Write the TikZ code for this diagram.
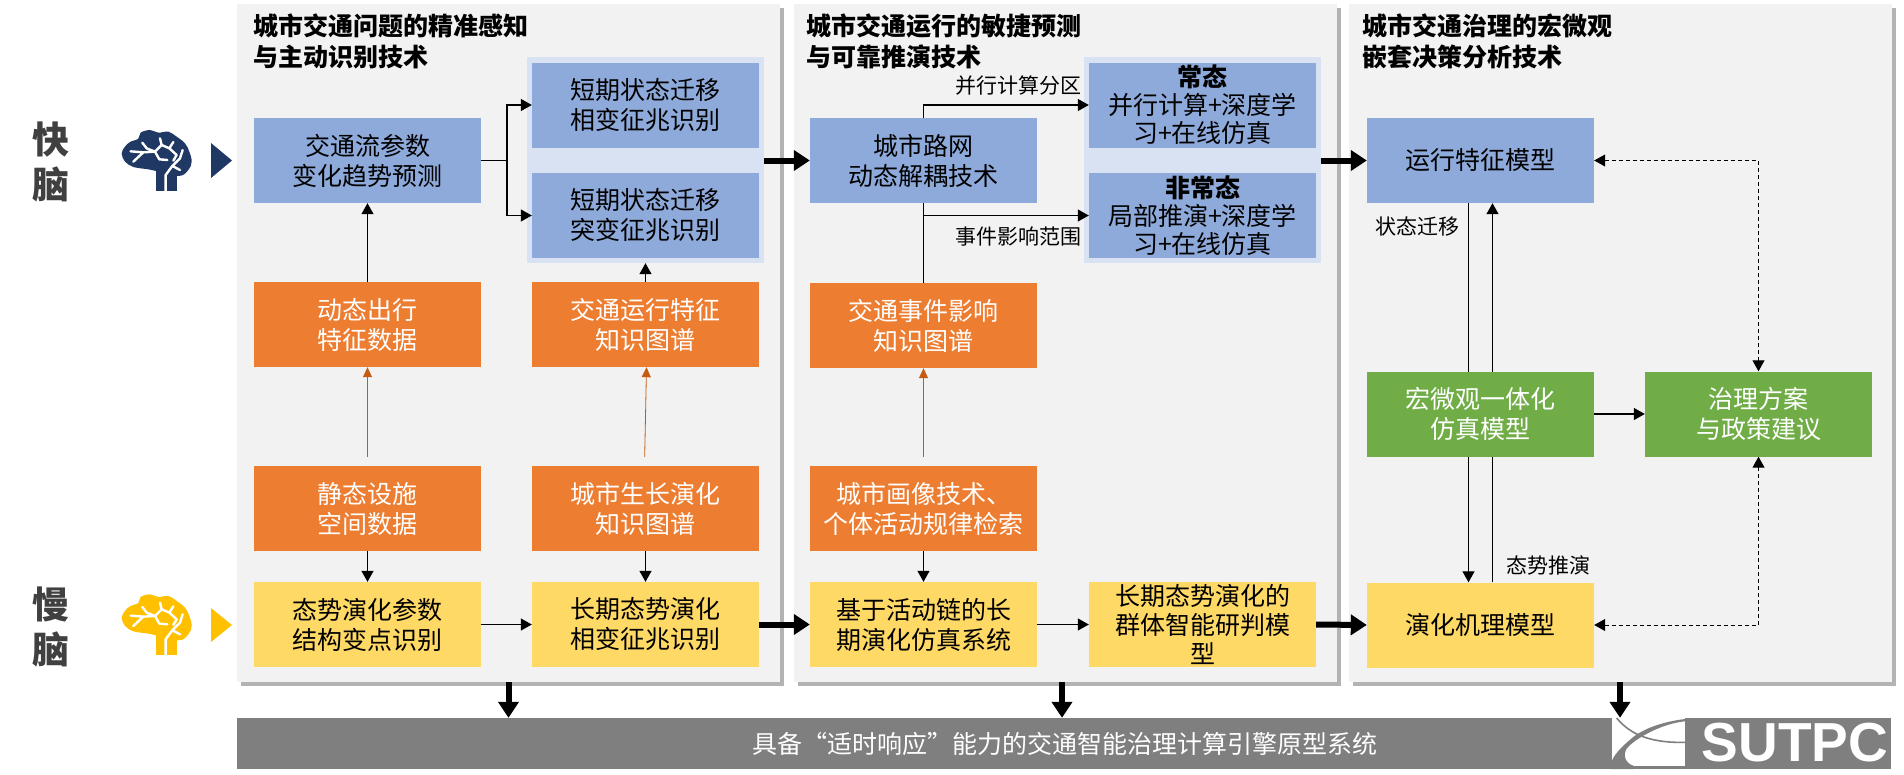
\documentclass[tikz,border=0pt]{standalone}
\usepackage{fontspec}
\setmainfont{Noto Sans CJK SC}
\newfontfamily\logofont{Liberation Sans}
\usetikzlibrary{arrows.meta, shadows}

\definecolor{panelgray}{HTML}{F2F2F2}
\definecolor{barblue}{HTML}{8EAADB}
\definecolor{halfblue}{HTML}{D9E2F3}
\definecolor{dataorange}{HTML}{ED7D31}
\definecolor{slowyellow}{HTML}{FFD966}
\definecolor{macrogreen}{HTML}{70AD47}
\definecolor{basegray}{HTML}{7F7F7F}
\definecolor{navyicon}{HTML}{1F3864}
\definecolor{goldicon}{HTML}{FFC000}
\definecolor{headgray}{HTML}{404040}
\definecolor{rustline}{HTML}{C55A11}

\tikzset{
    panel/.style={fill=panelgray, inner sep=0pt, minimum width=543pt, minimum height=678pt,
        drop shadow={shadow xshift=4pt, shadow yshift=-4pt, fill=black!50, opacity=0.6}},
    halo/.style={fill=halfblue, inner sep=0pt, minimum width=237pt, minimum height=206pt},
    block/.style={inner sep=0pt, minimum width=227pt, minimum height=85pt, align=center,
        font=\fontsize{25}{30}\selectfont},
    blueblock/.style={block, fill=barblue},
    orangeblock/.style={block, fill=dataorange, text=white},
    yellowblock/.style={block, fill=slowyellow},
    greenblock/.style={block, fill=macrogreen, text=white},
    paneltitle/.style={anchor=west, inner sep=0pt, align=left,
        font=\fontsize{25}{31}\selectfont\bfseries},
    tag/.style={inner sep=0pt, font=\fontsize{21}{25}\selectfont},
    brainname/.style={inner sep=0pt, align=center, text=headgray,
        font=\fontsize{37}{45}\selectfont\bfseries},
    thinarrow/.style={line width=1.25pt, -{Triangle[length=11pt,width=12pt]}},
    plainline/.style={line width=1.25pt},
    rustarrow/.style={line width=0.8pt, draw=rustline, shorten <=9pt, -{Triangle[length=10pt,width=9pt]}},
    thickarrow/.style={line width=6pt, -{Triangle[length=16pt,width=20pt]}},
    dashedarrow/.style={line width=1pt, dash pattern=on 4pt off 3pt, {Triangle[length=11pt,width=12pt]}-{Triangle[length=11pt,width=12pt]}},
}

% Brain icon: x, y of the corner, colour
\newcommand{\brainicon}[3]{
    \begin{scope}[shift={(#1,#2)}, x=0.3333pt, y=-0.3333pt]
        \fill[#3] plot[smooth cycle, tension=0.6] coordinates {(125,150) (100,146) (70,141) (45,125) (35,100) (45,80)
            (60,66) (85,56) (92,38) (120,30) (145,38) (175,35) (200,50) (225,70) (238,95) (245,125) (235,150) (205,168)};
        \fill[#3] (138,212) rectangle (200,140);
        \draw[white, line width=2.4pt, line cap=round, line join=round]
            (167,214) -- (167,165) -- (187,138) -- (210,115) -- (218,90)
            (187,138) -- (210,150)
            (190,122) -- (200,105) -- (178,85) -- (155,75) -- (150,55)
            (155,75) -- (135,95) -- (110,85) -- (97,68)
            (135,95) -- (100,97) -- (62,94)
            (100,97) -- (70,125)
            (178,85) -- (190,66)
            (135,95) -- (148,118) -- (172,120);
    \end{scope}
}

\begin{document}
\begin{tikzpicture}[x=1pt, y=-1pt]
    \useasboundingbox (0,0) rectangle (1904,774);

    % Draw panels
    \node[panel] (panelsense) at (508.5,343) {};
    \node[panel] (panelpredict) at (1065,343) {};
    \node[panel] (panelgovern) at (1620,343) {};
    \node[fill=basegray, inner sep=0pt, minimum width=1654pt, minimum height=51pt, text=white,
        font=\fontsize{25}{30}\selectfont] (engine) at (1064,743.5) {\hspace*{2pt}具备“适时响应”能力的交通智能治理计算引擎原型系统};

    % Panel titles
    \node[paneltitle] (titlesense) at (253,41) {城市交通问题的精准感知\\与主动识别技术};
    \node[paneltitle] (titlepredict) at (806,41) {城市交通运行的敏捷预测\\与可靠推演技术};
    \node[paneltitle] (titlegovern) at (1362,41) {城市交通治理的宏微观\\嵌套决策分析技术};

    % Draw nodes
    \node[halo] (halostate) at (645.5,160) {};
    \node[halo] (halomode) at (1202,160) {};

    \node[blueblock] (trend) at (367.5,160.5) {交通流参数\\变化趋势预测};
    \node[orangeblock] (dynamic) at (367.5,324.5) {动态出行\\特征数据};
    \node[orangeblock] (static) at (367.5,508.5) {静态设施\\空间数据};
    \node[yellowblock] (breakpoint) at (367.5,624.5) {态势演化参数\\结构变点识别};

    \node[blueblock] (phase) at (645.5,105) {短期状态迁移\\相变征兆识别};
    \node[blueblock] (mutation) at (645.5,215.5) {短期状态迁移\\突变征兆识别};
    \node[orangeblock] (runkg) at (645.5,324.5) {交通运行特征\\知识图谱};
    \node[orangeblock] (growthkg) at (645.5,508.5) {城市生长演化\\知识图谱};
    \node[yellowblock] (longphase) at (645.5,624.5) {长期态势演化\\相变征兆识别};

    \node[blueblock] (decouple) at (923.5,160.5) {城市路网\\动态解耦技术};
    \node[orangeblock] (eventkg) at (923.5,325.5) {交通事件影响\\知识图谱};
    \node[orangeblock] (portrait) at (923.5,508.5) {城市画像技术、\\个体活动规律检索};
    \node[yellowblock] (activity) at (923.5,624.5) {基于活动链的长\\期演化仿真系统};

    \node[blueblock, font=\fontsize{25}{28}\selectfont] (normal) at (1202.5,105) {\textbf{常态}\\并行计算+深度学\\习+在线仿真};
    \node[blueblock, font=\fontsize{25}{28}\selectfont] (abnormal) at (1202.5,215.5) {\textbf{非常态}\\局部推演+深度学\\习+在线仿真};
    \node[yellowblock, font=\fontsize{25}{29}\selectfont] (swarm) at (1202.5,624.5) {长期态势演化的\\群体智能研判模\\型};

    \node[blueblock] (runmodel) at (1480.5,160.5) {运行特征模型};
    \node[yellowblock] (evomodel) at (1480.5,625) {演化机理模型};

    % Draw connections
    \coordinate (forktrend) at (507,160.5);
    \draw[plainline] (trend.east) -- (forktrend);
    \draw[thinarrow] (forktrend) |- (phase.west);
    \draw[thinarrow] (forktrend) |- (mutation.west);
    \draw[thinarrow] (dynamic.north) -- (trend.south);
    \draw[thinarrow] (runkg.north) -- (halostate.south);
    \draw[rustarrow] (static.north) -- (dynamic.south);
    \draw[rustarrow] ([xshift=-1pt]growthkg.north) -- ([xshift=1pt]runkg.south);
    \draw[rustarrow] (portrait.north) -- (eventkg.south);
    \draw[thinarrow] (static.south) -- (breakpoint.north);
    \draw[thinarrow] (growthkg.south) -- (longphase.north);
    \draw[thinarrow] (portrait.south) -- (activity.north);
    \draw[thinarrow] (breakpoint.east) -- (longphase.west);
    \draw[thinarrow] (activity.east) -- (swarm.west);

    \draw[thinarrow] (decouple.north) |- (normal.west);
    \draw[thinarrow] (decouple.south) |- (abnormal.west);
    \draw[plainline] (decouple.south) -- (eventkg.north);

    \draw[thickarrow] (halostate.east |- decouple.west) -- (decouple.west);
    \draw[thickarrow] (halomode.east |- runmodel.west) -- (runmodel.west);
    \draw[thickarrow] (longphase.east) -- (activity.west);
    \draw[thickarrow] (swarm.east) -- (evomodel.west);

    \draw[thinarrow] ([xshift=-12pt]runmodel.south) -- ([xshift=-12pt]evomodel.north);
    \draw[thinarrow] ([xshift=12pt]evomodel.north) -- ([xshift=12pt]runmodel.south);

    % These sit over the lines above
    \node[greenblock] (unified) at (1480.5,414) {宏微观一体化\\仿真模型};
    \node[greenblock] (policy) at (1758.5,414) {治理方案\\与政策建议};

    \draw[thinarrow] (unified.east) -- (policy.west);
    \draw[dashedarrow] (runmodel.east) -| (policy.north);
    \draw[dashedarrow] (evomodel.east) -| (policy.south);

    \draw[thickarrow] (panelsense.south) -- (panelsense.south |- engine.north);
    \draw[thickarrow] ([xshift=-3pt]panelpredict.south) -- ([xshift=-3pt]panelpredict.south |- engine.north);

    % Labels
    \node[tag] (tagparallel) at (1018,86) {并行计算分区};
    \node[tag] (tagevent) at (1018,237) {事件影响范围};
    \node[tag] (tagstate) at (1417,227) {状态迁移};
    \node[tag] (tagtrend) at (1548,565) {态势推演};

    % Brains
    \node[brainname] (fastname) at (51,162) {快\\脑};
    \node[brainname] (slowname) at (51,627) {慢\\脑};
    \brainicon{110}{120}{navyicon}
    \brainicon{110}{584.3}{goldicon}
    \fill[navyicon] (211,143) -- (232,160.5) -- (211,178) -- cycle;
    \fill[goldicon] (211,608) -- (232,625) -- (211,642) -- cycle;

    % Logo
    \begin{scope}[shift={(1600,710)}, x=0.3333pt, y=-0.3333pt]
        \fill[white] (35,24) rectangle (255,168);
        \fill[basegray] (255,27) .. controls (190,35) and (130,55) .. (95,85)
            .. controls (65,110) and (40,135) .. (33,160) -- (33,177) -- (100,177) -- (100,167)
            .. controls (75,160) and (65,130) .. (85,110)
            .. controls (115,80) and (190,40) .. (255,34) -- cycle;
        \draw[basegray, line width=1.6pt] (50,24) .. controls (80,60) and (130,100) .. (255,97);
    \end{scope}
    \draw[thickarrow] (panelgovern.south) -- (panelgovern.south |- engine.north);
    \node[inner sep=0pt, text=white, font=\logofont\fontsize{55}{55}\selectfont\bfseries] (logotext) at (1795,743) {SUTPC};
\end{tikzpicture}
\end{document}
